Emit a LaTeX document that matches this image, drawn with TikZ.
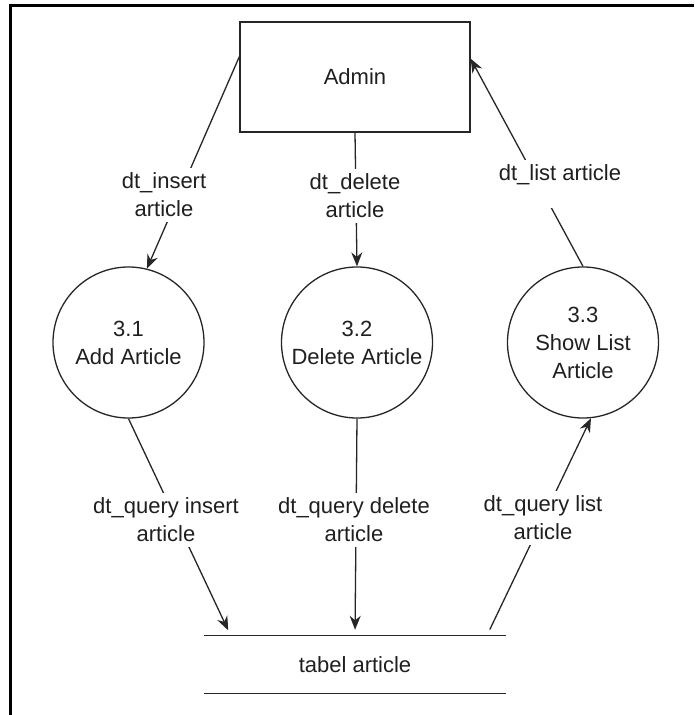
\documentclass[tikz,border=0pt]{standalone}
\usepackage{fontspec}
\setmainfont{Liberation Sans}
\usetikzlibrary{arrows.meta,calc}
\begin{document}
\begin{tikzpicture}[x=1pt,y=-1pt,
  every node/.style={font=\fontsize{22}{28}\selectfont, text=black!88},
  proc/.style={draw=black!85, circle, line width=1.3pt, minimum size=151pt, inner sep=0pt, align=center},
  ent/.style={draw=black!85, rectangle, line width=1.3pt, minimum width=230pt, minimum height=110pt},
  flow/.style={draw=black!85, line width=1.3pt, -{Stealth[length=14pt,width=11pt]}},
  lbl/.style={fill=white, align=center, inner sep=5pt},
  ]
\useasboundingbox (0,0) rectangle (694,715);
\draw[line width=3pt] (10.8,715) -- (10.8,5) -- (694,5);

\node (admin) [ent] at (355,77) {Admin};
\node (p1) [proc] at (128.5,342.5) {3.1\\Add Article};
\node (p2) [proc] at (357,342.5) {3.2\\Delete Article};
\node (p3) [proc] at (583,342.5) {3.3\\Show List\\Article};
\node (store) [minimum width=302pt, minimum height=57pt, inner sep=0pt] at (355,664.5) {tabel article};
\draw[draw=black!85, line width=1.3pt] (store.north west) -- (store.north east)
  (store.south west) -- (store.south east);

\draw[flow] (admin.170.6) -- (p1.76);
\draw[flow] (admin.south) -- (p2.north);
\draw[flow] (p3.north) -- (admin.9.4);
\draw[flow, shorten >=6pt] (p1.south) -- ($(store.north west)+(27,0)$);
\draw[flow, shorten >=6pt] (p2.south) -- (store.north);
\draw[flow, shorten <=7pt] ($(store.north west)+(283,0)$) -- (p3.-84);

\node (l1) [lbl] at (164,195) {dt\_insert\\article};
\node (l2) [lbl] at (355,196) {dt\_delete\\article};
\node (l3) [lbl, inner sep=2pt, text height=18pt, text depth=26pt, anchor=base] at (560,180) {dt\_list article};
\node (l4) [lbl] at (166,520) {dt\_query insert\\article};
\node (l5) [lbl] at (354,520) {dt\_query delete\\article};
\node (l6) [lbl] at (543,518) {dt\_query list\\article};
\end{tikzpicture}
\end{document}
